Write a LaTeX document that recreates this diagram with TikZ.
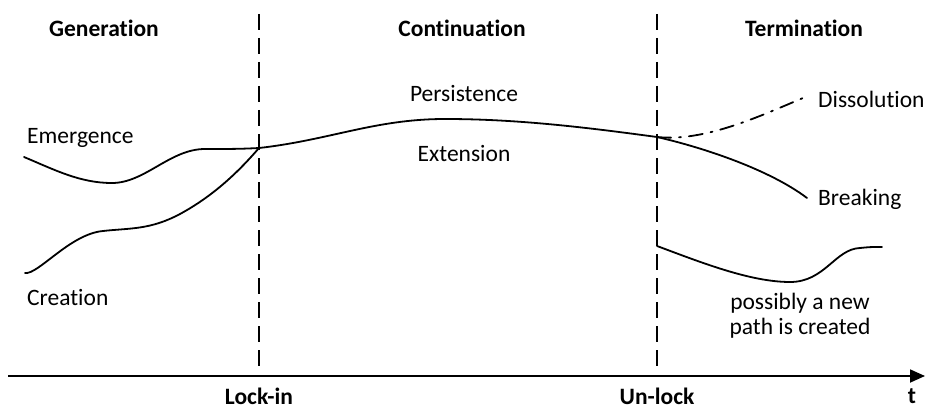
\documentclass[tikz,border=0pt]{standalone}
\usepackage{fontspec}
\setmainfont{Carlito}[Ligatures=NoCommon]
\usetikzlibrary{arrows.meta}
\begin{document}
\begin{tikzpicture}[x=1pt,y=-1pt,
  label text/.style={font=\fontsize{23.5}{27}\selectfont, inner sep=0pt},
  phase/.style={font=\fontsize{23.5}{27}\selectfont\bfseries, inner sep=0pt},
  pathline/.style={line width=1.8pt, line cap=round},
  boundary/.style={line width=1.6pt, dash pattern=on 16pt off 8pt},
  axisline/.style={line width=1.8pt, -{Triangle[length=15pt,width=13pt]}}]
\useasboundingbox (0,0) rectangle (928,409);

% phase titles
\node[phase] (gen) at (104,28) {Generation};
\node[phase] (cont) at (462,28) {Continuation};
\node[phase] (term) at (804,28) {Termination};

% phase boundaries
\coordinate (lockTop) at (259,14);
\coordinate (lockBot) at (259,366);
\coordinate (unlockTop) at (657,14);
\coordinate (unlockBot) at (657,366);
\draw[boundary] (lockTop) -- (lockBot);
\draw[boundary] (unlockTop) -- (unlockBot);

% time axis
\coordinate (axStart) at (8,376);
\coordinate (axEnd) at (925,376);
\draw[axisline] (axStart) -- (axEnd);
\node[phase] (lockin) at (259,396) {Lock-in};
\node[phase] (unlock) at (657,396) {Un-lock};
\node[phase] (tlab) at (912,396) {t};

% junction points
\coordinate (J1) at (259,148);
\coordinate (J2) at (657,137);

% generation paths
\coordinate (emStart) at (24,157);
\draw[pathline] (emStart) .. controls (55,170) and (80,183) .. (112,183)
  .. controls (145,183) and (170,149) .. (205,149)
  .. controls (230,149) and (240,149) .. (J1);
\coordinate (crStart) at (25,273);
\draw[pathline] (crStart) .. controls (38,275) and (70,234) .. (103,231)
  .. controls (130,228) and (150,230) .. (180,214)
  .. controls (215,195) and (240,170) .. (J1);
\node[label text, anchor=west] (emer) at (27,138) {Emergence};
\node[label text, anchor=west] (crea) at (27,297) {Creation};

% continuation path
\draw[pathline] (J1) .. controls (330,140) and (375,119) .. (445,119)
  .. controls (520,119) and (590,128) .. (J2);
\node[label text] (pers) at (464,94) {Persistence};
\node[label text] (ext) at (464,154) {Extension};

% termination paths
\coordinate (dissEnd) at (803,98);
\coordinate (breakEnd) at (807,198);
\draw[pathline, dash pattern=on 14pt off 8pt on 2pt off 8pt] (J2)
  .. controls (705,142) and (760,116) .. (dissEnd);
\draw[pathline] (J2) .. controls (705,148) and (770,170) .. (breakEnd);
\node[label text, anchor=west] (diss) at (818,99) {Dissolution};
\node[label text, anchor=west] (brk) at (818,199) {Breaking};

% new path after unlocking
\coordinate (newStart) at (657,246);
\coordinate (newEnd) at (882,247);
\draw[pathline] (newStart) .. controls (700,262) and (750,282) .. (790,282)
  .. controls (825,282) and (835,249) .. (860,248)
  .. controls (870,247) .. (newEnd);
\node[label text] (newa) at (800,303) {possibly a new};
\node[label text] (newb) at (800,328) {path is created};
\end{tikzpicture}
\end{document}
